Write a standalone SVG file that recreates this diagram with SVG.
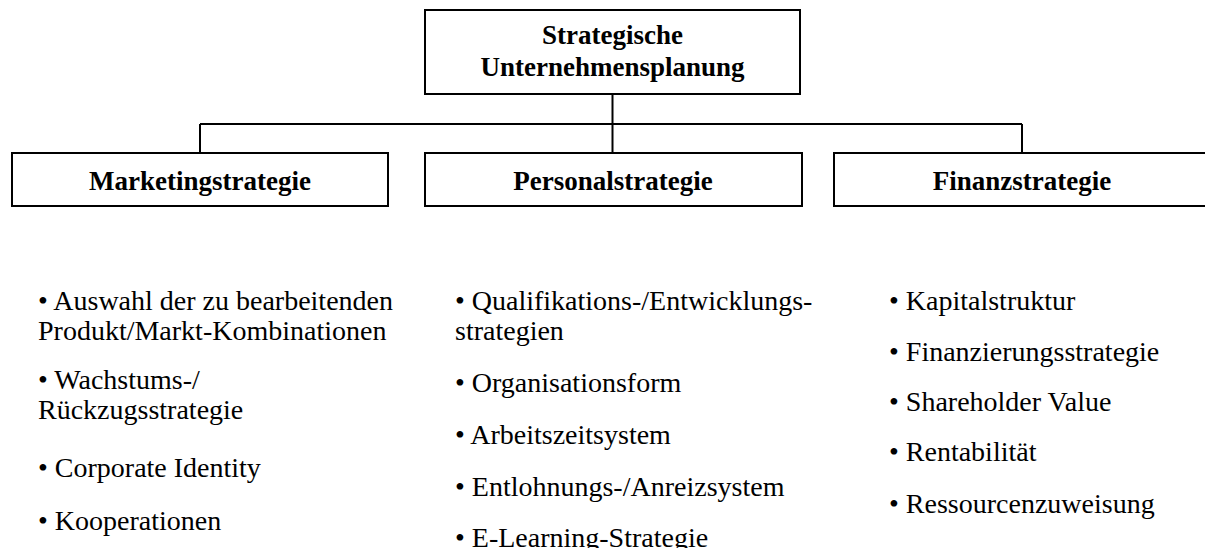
<svg xmlns="http://www.w3.org/2000/svg" width="1205" height="548" viewBox="0 0 1205 548">
  <style>
    .box { fill: #ffffff; stroke: #000000; stroke-width: 2; }
    .conn { fill: none; stroke: #000000; stroke-width: 2; }
    .head { font-family: "Liberation Serif", "Times New Roman", serif; font-weight: bold; font-size: 27px; fill: #000000; text-anchor: middle; }
    .item { font-family: "Liberation Serif", "Times New Roman", serif; font-size: 28px; fill: #000000; }
  </style>
  <rect width="1205" height="548" fill="#ffffff"/>

  <!-- connectors -->
  <g id="connectors">
    <path class="conn" d="M612.5 94 V153"/>
    <path class="conn" d="M200 124 H1022"/>
    <path class="conn" d="M200 124 V153"/>
    <path class="conn" d="M1022 124 V153"/>
  </g>

  <!-- root node -->
  <g id="node-planung">
    <rect class="box" x="425" y="10" width="375" height="84"/>
    <text class="head" x="612.5" y="44">Strategische</text>
    <text class="head" x="612.5" y="76">Unternehmensplanung</text>
  </g>

  <!-- strategy nodes -->
  <g id="node-marketing">
    <rect class="box" x="12" y="153" width="376" height="53"/>
    <text class="head" x="200" y="190">Marketingstrategie</text>
  </g>
  <g id="node-personal">
    <rect class="box" x="425" y="153" width="377" height="53"/>
    <text class="head" x="613" y="190">Personalstrategie</text>
  </g>
  <g id="node-finanz">
    <rect class="box" x="834" y="153" width="380" height="53"/>
    <text class="head" x="1022" y="190">Finanzstrategie</text>
  </g>

  <!-- bullet lists -->
  <g id="list-marketing" class="item">
    <text x="38" y="310">• Auswahl der zu bearbeitenden</text>
    <text x="38" y="340">Produkt/Markt-Kombinationen</text>
    <text x="38" y="389">• Wachstums-/</text>
    <text x="38" y="419">Rückzugsstrategie</text>
    <text x="38" y="477">• Corporate Identity</text>
    <text x="38" y="530">• Kooperationen</text>
  </g>
  <g id="list-personal" class="item">
    <text x="455" y="310">• Qualifikations-/Entwicklungs-</text>
    <text x="455" y="340">strategien</text>
    <text x="455" y="392">• Organisationsform</text>
    <text x="455" y="444">• Arbeitszeitsystem</text>
    <text x="455" y="496">• Entlohnungs-/Anreizsystem</text>
    <text x="455" y="547">• E-Learning-Strategie</text>
  </g>
  <g id="list-finanz" class="item">
    <text x="889" y="310">• Kapitalstruktur</text>
    <text x="889" y="361">• Finanzierungsstrategie</text>
    <text x="889" y="411">• Shareholder Value</text>
    <text x="889" y="461">• Rentabilität</text>
    <text x="889" y="513">• Ressourcenzuweisung</text>
  </g>
</svg>
